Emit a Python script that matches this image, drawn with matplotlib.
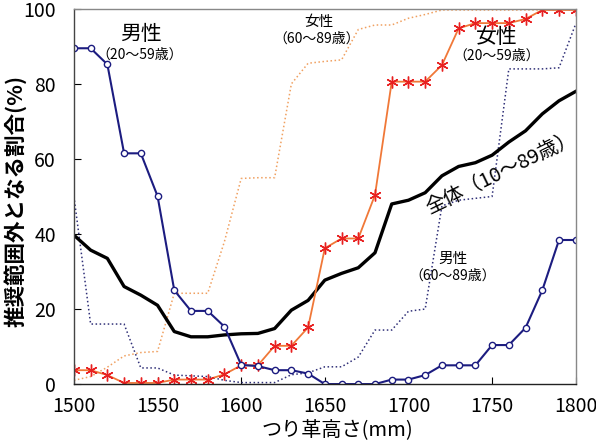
import matplotlib
matplotlib.use('Agg')
import matplotlib.pyplot as plt

plt.rcParams['font.family'] = ['Noto Sans CJK JP', 'DejaVu Sans']

# つり革高さ (mm)
heights = list(range(1500, 1801, 10))

# 男性 20～59歳
male_young = [89.5, 89.5, 85.2, 61.5, 61.5, 50.1, 25.0, 19.5, 19.5, 15.3,
              5.1, 4.8, 3.7, 3.7, 2.8, 0.0, 0.0, 0.0, 0.0, 1.2,
              1.2, 2.4, 5.0, 5.0, 5.0, 10.4, 10.4, 15.0, 25.0, 38.4, 38.4]

# 女性 20～59歳
female_young = [3.7, 3.7, 2.4, 0.3, 0.3, 0.3, 1.2, 1.2, 1.2, 2.6,
                5.0, 5.0, 10.2, 10.2, 15.1, 36.2, 38.8, 38.8, 50.4, 80.6,
                80.6, 80.6, 85.0, 94.8, 96.2, 96.2, 96.2, 97.3, 99.7, 99.7, 99.7]

# 全体 10～89歳
overall = [39.7, 35.7, 33.5, 26.0, 23.7, 21.0, 14.0, 12.6, 12.6, 13.1,
           13.4, 13.5, 14.8, 19.7, 22.3, 27.7, 29.5, 31.0, 35.0, 48.0,
           49.0, 51.0, 55.5, 58.0, 59.0, 61.0, 64.5, 67.5, 72.0, 75.5, 78.0]

# 女性 60～89歳
female_old = [1.0, 2.0, 4.5, 7.5, 8.4, 8.7, 24.2, 24.2, 24.2, 38.0,
              54.8, 55.0, 55.0, 80.0, 85.5, 86.0, 86.4, 94.5, 95.7, 95.7,
              97.5, 98.5, 99.7, 99.7, 99.7, 99.7, 99.7, 99.7, 99.7, 99.7, 99.7]

# 男性 60～89歳
male_old = [50.0, 16.0, 16.0, 16.0, 4.3, 4.3, 2.4, 2.2, 2.0, 1.0,
            0.4, 0.4, 0.4, 2.5, 3.0, 4.6, 4.6, 7.2, 14.4, 14.4,
            19.4, 20.0, 47.5, 49.0, 49.5, 50.0, 84.0, 84.0, 84.0, 84.3, 96.0]

fig = plt.figure(figsize=(5.96, 4.43), dpi=100)
ax = fig.add_axes([0.124, 0.133, 0.842, 0.847])

ax.plot(heights, female_old, linestyle=':', color='#f0a060', linewidth=1.1)
ax.plot(heights, male_old, linestyle=':', color='#303078', linewidth=1.1)
ax.plot(heights, overall, color='black', linewidth=2.4)
ax.plot(heights, female_young, color='#f07838', linewidth=1.3,
        marker=(6, 2, 0), markersize=8.5, markeredgecolor='#e82020',
        markeredgewidth=1.0)
ax.plot(heights, male_young, color='#1c1c80', linewidth=1.5,
        marker='o', markersize=4.5, markerfacecolor='white',
        markeredgecolor='#1c1c80', markeredgewidth=1.0)

ax.set_xlim(1500, 1800)
ax.set_ylim(0, 100)
ax.set_xticks(range(1500, 1801, 50))
ax.set_yticks(range(0, 101, 20))
ax.tick_params(direction='in', length=5, labelsize=14)
ax.tick_params(axis='x', pad=8.5)
ax.tick_params(axis='y', pad=13)
for s in ax.spines.values():
    s.set_color('#888888')
    s.set_linewidth(1.0)
ax.spines['left'].set_color('#444444')
ax.spines['bottom'].set_color('#222222')


def px(x, y):
    # 画像のピクセル位置 -> figure 座標
    return x / 596, 1 - y / 443


# 軸ラベル
fig.text(*px(337, 431), 'つり革高さ(mm)', fontsize=14.5, ha='center', va='center')
fig.text(*px(15, 201), '推奨範囲外となる割合(%)', fontsize=15.5, fontweight='bold',
         ha='center', va='center', rotation=90)

# 系列ラベル
fig.text(*px(141, 34), '男性', fontsize=15, ha='center', va='center')
fig.text(*px(140, 55), '（20～59歳）', fontsize=10, ha='center', va='center')
fig.text(*px(319, 22), '女性', fontsize=10.5, ha='center', va='center')
fig.text(*px(317, 39), '（60～89歳）', fontsize=10, ha='center', va='center')
fig.text(*px(497, 37), '女性', fontsize=15, ha='center', va='center')
fig.text(*px(497, 56), '（20～59歳）', fontsize=10, ha='center', va='center')
fig.text(*px(453, 259), '男性', fontsize=10.5, ha='center', va='center')
fig.text(*px(453, 276), '（60～89歳）', fontsize=10, ha='center', va='center')
fig.text(*px(501, 173), '全体（10～89歳）', fontsize=14.5, ha='center', va='center',
         rotation=26, rotation_mode='anchor')

fig.savefig('out.png', dpi=100)
